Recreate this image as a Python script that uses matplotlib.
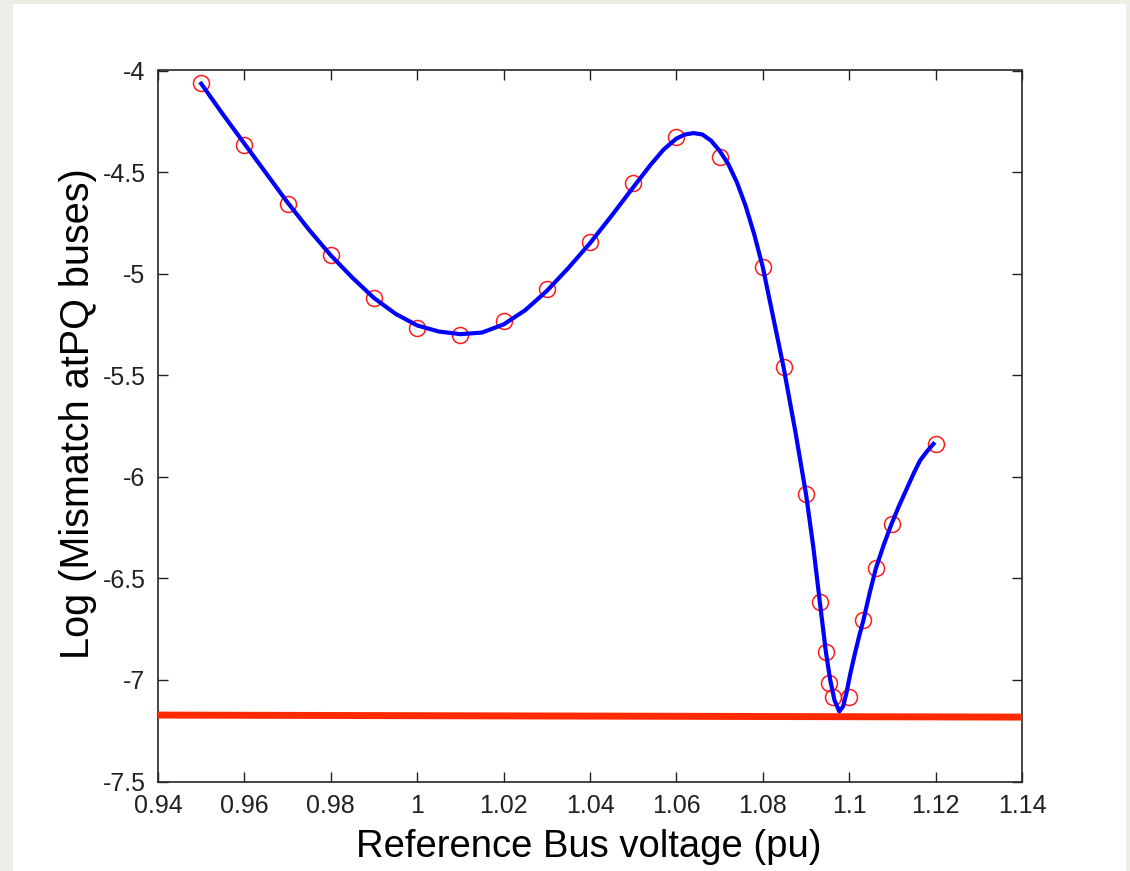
import matplotlib
matplotlib.use("Agg")
import matplotlib.pyplot as plt
from matplotlib.patches import Rectangle

# sampled points (red circles)
volt_pts = [0.95, 0.96, 0.97, 0.98, 0.99, 1.00, 1.01, 1.02, 1.03, 1.04, 1.05,
            1.06, 1.07, 1.08, 1.085, 1.09, 1.0932, 1.0946, 1.0954, 1.0963,
            1.10, 1.1033, 1.1062, 1.11, 1.12]
mis_pts = [-4.06, -4.367, -4.656, -4.908, -5.121, -5.269, -5.30, -5.234,
           -5.078, -4.842, -4.555, -4.326, -4.424, -4.968, -5.46, -6.085,
           -6.616, -6.862, -7.017, -7.083, -7.083, -6.705, -6.449, -6.232,
           -5.838]

# smooth fitted curve (blue)
volt_fit = [0.95, 0.955, 0.96, 0.965, 0.97, 0.975, 0.98, 0.985, 0.99, 0.995,
            1.00, 1.005, 1.01, 1.015, 1.02, 1.025, 1.03, 1.035, 1.04, 1.045,
            1.05, 1.054, 1.057, 1.06, 1.062, 1.064, 1.066, 1.068, 1.070,
            1.072, 1.074, 1.076, 1.078, 1.08, 1.0824, 1.0848, 1.0875, 1.09,
            1.0917, 1.0932, 1.0946, 1.0956, 1.0966, 1.0977, 1.0986, 1.0994,
            1.1003, 1.1013, 1.1023, 1.1033, 1.1047, 1.1062, 1.108, 1.1098,
            1.1115, 1.1133, 1.115, 1.1164, 1.118, 1.1195]
mis_fit = [-4.065, -4.215, -4.36, -4.505, -4.65, -4.785, -4.91, -5.02, -5.12,
           -5.198, -5.255, -5.285, -5.298, -5.29, -5.25, -5.18, -5.085,
           -4.972, -4.85, -4.715, -4.575, -4.465, -4.39, -4.335, -4.315,
           -4.308, -4.315, -4.345, -4.395, -4.46, -4.55, -4.665, -4.805,
           -4.968, -5.214, -5.46, -5.773, -6.085, -6.347, -6.616, -6.862,
           -7.0, -7.1, -7.155, -7.13, -7.06, -6.965, -6.872, -6.785, -6.705,
           -6.575, -6.449, -6.335, -6.232, -6.145, -6.06, -5.98, -5.92,
           -5.875, -5.838]

# red threshold line
thr_x = [0.94, 1.14]
thr_y = [-7.173, -7.183]

x_ticks = [0.94, 0.96, 0.98, 1.0, 1.02, 1.04, 1.06, 1.08, 1.1, 1.12, 1.14]
x_labels = ['0.94', '0.96', '0.98', '1', '1.02', '1.04', '1.06', '1.08',
            '1.1', '1.12', '1.14']
y_ticks = [-7.5, -7, -6.5, -6, -5.5, -5, -4.5, -4]
y_labels = ['-7.5', '-7', '-6.5', '-6', '-5.5', '-5', '-4.5', '-4']


def plot():
    plt.rcParams['font.family'] = ['Liberation Sans', 'DejaVu Sans']
    fig = plt.figure(figsize=(11.3, 8.71), dpi=100, facecolor='#ededE5')
    fig.patches.append(Rectangle((13 / 1130, 0), 1113 / 1130, 1 - 4 / 871,
                                 transform=fig.transFigure,
                                 facecolor='white', edgecolor='none',
                                 zorder=-10))

    ax = fig.add_axes([158 / 1130, 1 - 781.5 / 871, 864 / 1130, 711 / 871])

    ax.plot(volt_pts, mis_pts, 'o', mfc='none', mec='#ff1a1a', ms=11.5,
            mew=1.1, zorder=2)
    ax.plot(volt_fit, mis_fit, '-', color='#0000ff', lw=3.0, zorder=3,
            solid_joinstyle='round')
    ax.plot(thr_x, thr_y, '-', color='#ff2a00', lw=5, zorder=4,
            solid_capstyle='butt')

    ax.set_xlim(0.94, 1.14)
    ax.set_ylim(-7.5, -4)
    ax.set_xticks(x_ticks)
    ax.set_xticklabels(x_labels)
    ax.set_yticks(y_ticks)
    ax.set_yticklabels(y_labels)
    ax.tick_params(direction='in', length=7, width=1, top=True, right=True,
                   labelsize=18, colors='#222222')
    ax.tick_params(axis='x', pad=9)
    ax.tick_params(axis='y', pad=9)
    for s in ax.spines.values():
        s.set_linewidth(1.2)
        s.set_color('#262626')

    ax.set_xlabel('Reference Bus voltage (pu)', fontsize=27.5, va='baseline')
    ax.xaxis.set_label_coords(0.498, -0.106)
    ax.set_ylabel('Log (Mismatch atPQ buses)', fontsize=28.5, va='baseline')
    ax.yaxis.set_label_coords(-0.08, 0.517)

    plt.savefig('out.png', dpi=100, facecolor=fig.get_facecolor())


def main():
    plot()


if __name__ == '__main__':
    main()
